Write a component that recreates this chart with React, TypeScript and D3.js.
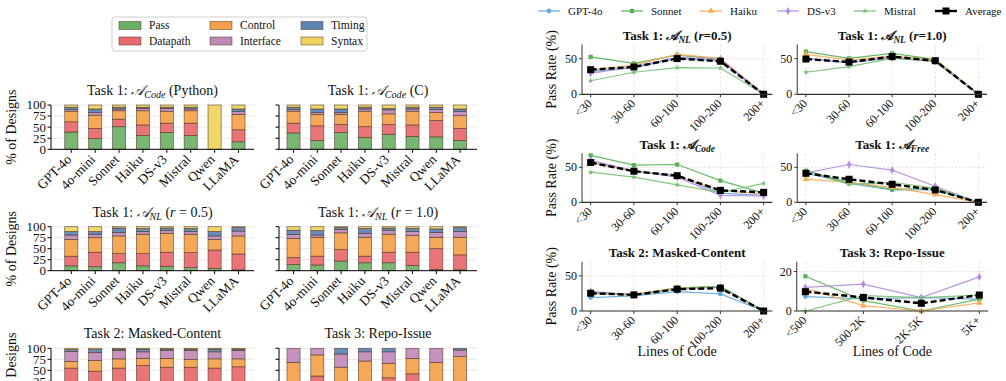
import React from 'react';
import * as d3 from 'd3';

const SERIF = '"Liberation Serif", "DejaVu Serif", serif';

// ---- left half: failure breakdown (stacked %) ----
const models = ['GPT-4o', '4o-mini', 'Sonnet', 'Haiku', 'DS-v3', 'Mistral', 'Qwen', 'LLaMA'];
const failureKinds = ['Pass', 'Datapath', 'Control', 'Interface', 'Timing', 'Syntax'];
const kindColors: Record<string, string> = {
    Pass: '#6cb065',
    Datapath: '#e8696d',
    Control: '#f5a14b',
    Interface: '#c08ab7',
    Timing: '#5c83b4',
    Syntax: '#f0d35f',
};

// one row per model, columns in failureKinds order
const codePython = [
    [39, 23, 24, 4, 5, 5],
    [24, 23, 30, 6, 8, 9],
    [51, 17, 19, 4, 4, 5],
    [31, 24, 32, 5, 3, 5],
    [38, 21, 27, 6, 3, 5],
    [31, 28, 28, 4, 4, 5],
    [0, 0, 0, 0, 0, 100],
    [17, 27, 35, 6, 6, 9],
];
const codeC = [
    [37, 22, 27, 4, 5, 5],
    [20, 33, 26, 4, 8, 9],
    [38, 18, 23, 4, 8, 9],
    [27, 24, 35, 5, 4, 5],
    [34, 22, 24, 9, 3, 8],
    [29, 26, 31, 5, 4, 5],
    [28, 37, 18, 7, 5, 5],
    [20, 27, 29, 9, 6, 9],
];
const nlHalf = [
    [11, 22, 38, 10, 8, 11],
    [9, 33, 33, 8, 6, 11],
    [18, 21, 40, 8, 10, 3],
    [11, 28, 44, 6, 7, 4],
    [10, 32, 43, 6, 6, 3],
    [7, 34, 42, 6, 7, 4],
    [5, 42, 24, 8, 10, 11],
    [2, 36, 41, 11, 8, 2],
];
const nlFull = [
    [14, 16, 43, 9, 10, 8],
    [13, 20, 43, 5, 10, 9],
    [22, 26, 38, 8, 4, 2],
    [18, 15, 43, 9, 11, 4],
    [18, 24, 41, 9, 5, 3],
    [12, 30, 38, 9, 7, 4],
    [3, 47, 26, 11, 8, 5],
    [2, 34, 40, 13, 9, 2],
];
const masked = [
    [22, 33, 15, 23, 4, 3],
    [20, 28, 24, 18, 7, 3],
    [23, 32, 21, 19, 3, 2],
    [25, 36, 16, 15, 6, 2],
    [25, 32, 20, 18, 3, 2],
    [25, 32, 18, 20, 3, 2],
    [25, 30, 21, 16, 6, 2],
    [25, 33, 18, 19, 3, 2],
];
const repo = [
    [10, 10, 48, 32, 0, 0],
    [10, 27, 48, 15, 0, 0],
    [10, 15, 32, 30, 13, 0],
    [10, 15, 46, 21, 8, 0],
    [10, 23, 33, 26, 8, 0],
    [15, 27, 35, 23, 0, 0],
    [10, 15, 43, 32, 0, 0],
    [10, 15, 56, 15, 4, 0],
];
const shareTicks = [0, 25, 50, 75, 100];
// legend reads column by column: Pass/Datapath, Control/Interface, Timing/Syntax
const legendOrder = ['Pass', 'Datapath', 'Control', 'Interface', 'Timing', 'Syntax'];

// ---- right half: pass rate by size ----
const locBins = ['<30', '30-60', '60-100', '100-200', '200+'];
const repoBins = ['<500', '500-2K', '2K-5K', '5K+'];
const lineModels = ['GPT-4o', 'Sonnet', 'Haiku', 'DS-v3', 'Mistral'];
const lineColors = ['#62a9dc', '#55b356', '#fbaa52', '#b38ce0', '#76bf73'];
const lineSymbols = [d3.symbolCircle, d3.symbolSquare, d3.symbolTriangle, d3.symbolDiamond, d3.symbolStar];
const symbolSizes = [18, 18, 18, 18, 11];

const rateNlHalf = [
    [32, 37.5, 50.5, 47, 0],
    [52.5, 43.5, 55, 49, 0],
    [34, 41, 56, 50.5, 0],
    [29.5, 39, 52, 49, 0],
    [19, 31, 37.5, 37, 0],
];
const avgNlHalf = [34.6, 38.4, 50.2, 46.5, 0];
const rateNlFull = [
    [50, 45, 52, 46, 0],
    [60, 50.5, 57.5, 49, 0],
    [56, 48, 54, 48, 0],
    [51, 44, 51, 46, 0],
    [31, 39, 50.5, 47, 0],
];
const avgNlFull = [49.6, 45.3, 53, 47.2, 0];
const rateCode = [
    [57, 44, 38, 13, 10],
    [67, 53, 54, 31, 13],
    [57, 44, 37, 17, 12],
    [60, 45, 36, 10, 9],
    [43, 36, 25, 14, 27],
];
const avgCode = [56.8, 44.4, 38, 17, 14.2];
const rateFree = [
    [42, 27, 17.6, 17.6, 0],
    [45, 28.6, 18.6, 20, 0],
    [33, 28.6, 21.4, 11, 0],
    [42, 54, 46, 23, 0],
    [45, 25.7, 28.6, 20, 0],
];
const avgFree = [41.4, 32.9, 25.7, 17.6, 0];
const rateMasked = [
    [19, 21.4, 27.6, 24.3, 0],
    [27, 23, 33, 35, 0],
    [26, 24, 33, 34, 0],
    [28, 23, 31, 34, 0],
    [25, 23, 32, 35, 0],
];
const avgMasked = [25.2, 22.9, 31, 32.4, 0];
const rateRepo = [
    [7.3, 6.1, 6.8, 6],
    [17.6, 5.3, 0, 6],
    [11.5, 2.7, 0, 4.1],
    [12, 13.6, 6.8, 17.3],
    [0, 7.8, 6.8, 8],
];
const avgRepo = [9.8, 6.9, 3.9, 8.1];

// "Task 1: 𝒜_sub (rest)" style title pieces
function MathTitle({ sub, tail, r }: { sub: string; tail?: string; r?: string }) {
    return (
        <>
            Task 1: <tspan fontFamily='"DejaVu Sans"' fontStyle="italic">𝒜</tspan>
            <tspan dy={3} fontSize="0.72em" fontStyle="italic">{sub}</tspan>
            {tail && <tspan dy={-3}>{tail}</tspan>}
            {r && <><tspan dy={-3}> (</tspan><tspan fontStyle="italic">r</tspan><tspan>{r})</tspan></>}
        </>
    );
}

interface StackProps {
    title: React.ReactNode;
    shares: number[][];
    x0: number; x1: number; dom: [number, number];
    yTop: number; yBot: number;
    yLabels: boolean;
}

function StackPanel({ title, shares, x0, x1, dom, yTop, yBot, yLabels }: StackProps) {
    const x = d3.scaleLinear().domain(dom).range([x0, x1]);
    const y = d3.scaleLinear().domain([0, 100]).range([yBot, yTop]);
    const rows = shares.map(s => Object.fromEntries(failureKinds.map((k, j) => [k, s[j]])));
    const series = d3.stack<any>().keys(failureKinds)(rows);
    const bw = x(0.55) - x(0);

    return (
        <g>
            {shareTicks.slice(1).map(t => (
                <line key={t} x1={x0} x2={x1} y1={y(t)} y2={y(t)} stroke="#e4e4e4" strokeWidth={0.8} />
            ))}
            {series.map(layer => (
                <g key={layer.key}>
                    {layer.map((d, i) => d[1] - d[0] > 0 && (
                        <rect key={i} x={x(i) - bw / 2} width={bw} y={y(d[1])} height={y(d[0]) - y(d[1])}
                            fill={kindColors[layer.key]} fillOpacity={0.92}
                            stroke="#4a3322" strokeOpacity={0.75} strokeWidth={0.7} />
                    ))}
                </g>
            ))}
            <line x1={x0} x2={x0} y1={yTop} y2={yBot} stroke="#000" strokeWidth={1} />
            <line x1={x0} x2={x1} y1={yBot} y2={yBot} stroke="#000" strokeWidth={1} />
            {shareTicks.map(t => (
                <g key={t}>
                    <line x1={x0 - 3.5} x2={x0} y1={y(t)} y2={y(t)} stroke="#000" />
                    {yLabels && (
                        <text x={x0 - 5} y={y(t)} dy="0.34em" textAnchor="end" fontSize={13}>{t}</text>
                    )}
                </g>
            ))}
            {models.map((m, i) => (
                <g key={m}>
                    <line x1={x(i)} x2={x(i)} y1={yBot} y2={yBot + 3.5} stroke="#000" />
                    <text transform={`translate(${x(i) + 1},${yBot + 11}) rotate(-45)`} textAnchor="end" fontSize={13.5}>{m}</text>
                </g>
            ))}
            <text x={(x0 + x1) / 2} y={yTop - 10} textAnchor="middle" fontSize={14}>{title}</text>
            {yLabels && (
                <text transform={`translate(16,${(yTop + yBot) / 2}) rotate(-90)`} textAnchor="middle" fontSize={14}>% of Designs</text>
            )}
        </g>
    );
}

interface RateProps {
    title: React.ReactNode;
    bins: string[];
    rates: number[][];
    avg: number[];
    x0: number; x1: number; dom: [number, number];
    yTop: number; yBot: number; yMax: number; yTicks: number[];
    yTitle: boolean; xTitle: boolean;
}

function RatePanel({ title, bins, rates, avg, x0, x1, dom, yTop, yBot, yMax, yTicks, yTitle, xTitle }: RateProps) {
    const x = d3.scaleLinear().domain(dom).range([x0, x1]);
    const y = d3.scaleLinear().domain([0, yMax]).range([yBot, yTop]);
    const line = d3.line<number>().x((_, i) => x(i)).y(v => y(v));

    return (
        <g>
            {bins.map((b, i) => (
                <line key={b} x1={x(i)} x2={x(i)} y1={yTop} y2={yBot} stroke="#d8d8d8" strokeWidth={0.7} strokeDasharray="2.5,2" />
            ))}
            {yTicks.map(t => (
                <line key={t} x1={x0} x2={x1} y1={y(t)} y2={y(t)} stroke="#d8d8d8" strokeWidth={0.7} strokeDasharray="2.5,2" />
            ))}
            {rates.map((r, k) => (
                <g key={k}>
                    <path d={line(r) || ''} fill="none" stroke={lineColors[k]} strokeWidth={1.2} strokeOpacity={0.9} />
                    {r.map((v, i) => (
                        <path key={i} transform={`translate(${x(i)},${y(v)})`}
                            d={d3.symbol(lineSymbols[k], symbolSizes[k])() || ''} fill={lineColors[k]} />
                    ))}
                </g>
            ))}
            <path d={line(avg) || ''} fill="none" stroke="#000" strokeWidth={2.4} strokeDasharray="6,3" />
            {avg.map((v, i) => (
                <rect key={i} x={x(i) - 3.5} y={y(v) - 3.5} width={7} height={7} fill="#000" />
            ))}
            <line x1={x0} x2={x0} y1={yTop} y2={yBot} stroke="#555" strokeWidth={1.2} />
            <line x1={x0} x2={x1} y1={yBot} y2={yBot} stroke="#333" strokeWidth={1.2} />
            {yTicks.map(t => (
                <g key={t}>
                    <line x1={x0 - 3} x2={x0} y1={y(t)} y2={y(t)} stroke="#333" />
                    <text x={x0 - 5} y={y(t)} dy="0.34em" textAnchor="end" fontSize={12}>{t}</text>
                </g>
            ))}
            {bins.map((b, i) => (
                <g key={b}>
                    <line x1={x(i)} x2={x(i)} y1={yBot} y2={yBot + 3} stroke="#333" />
                    <text transform={`translate(${x(i) + 2},${yBot + 10}) rotate(-45)`} textAnchor="end" fontSize={12}>{b}</text>
                </g>
            ))}
            <text x={(x0 + x1) / 2} y={yTop - 4.5} textAnchor="middle" fontSize={13} fontWeight="bold">{title}</text>
            {yTitle && (
                <text transform={`translate(${x0 - 26},${(yTop + yBot) / 2}) rotate(-90)`} textAnchor="middle" fontSize={14}>Pass Rate (%)</text>
            )}
            {xTitle && (
                <text x={(x0 + x1) / 2} y={yBot + 45} textAnchor="middle" fontSize={14}>Lines of Code</text>
            )}
        </g>
    );
}

const legendCols = [119, 210, 301];
const lineLegendX = [538, 621, 700, 777, 854, 935];

export default function App() {
    const colA = { x0: 51, x1: 254, dom: [-0.85, 7.65] as [number, number] };
    const colB = { x0: 279, x1: 477, dom: [-0.61, 7.71] as [number, number] };
    const rowsL = [[105, 149.3], [226.7, 270.7], [348.3, 392.3]];
    const colRA = { x0: 582, x1: 772.3, dom: [-0.2, 4.2] as [number, number] };
    const colRB = { x0: 797.3, x1: 987, dom: [-0.2, 4.2] as [number, number] };
    const rowsR = [[44.5, 94.3], [153.3, 202.3], [261.7, 311]];

    return (
        <svg width={1006} height={381} style={{ position: 'absolute', left: 0, top: 0, background: '#fff' }}
            fontFamily={SERIF} fill="#111">
            {/* left legend */}
            <rect x={112} y={17} width={255} height={34} rx={3} fill="#fff" stroke="#cfcfcf" />
            {legendOrder.map((k, idx) => {
                const cx = legendCols[Math.floor(idx / 2)];
                const cy = idx % 2 === 0 ? 25.5 : 41;
                return (
                    <g key={k}>
                        <rect x={cx} y={cy - 4} width={22} height={8} fill={kindColors[k]} stroke="#4a3322" strokeOpacity={0.7} strokeWidth={0.7} />
                        <text x={cx + 30} y={cy} dy="0.34em" fontSize={11.5}>{k}</text>
                    </g>
                );
            })}

            <StackPanel title={<MathTitle sub="Code" tail=" (Python)" />} shares={codePython} {...colA} yTop={rowsL[0][0]} yBot={rowsL[0][1]} yLabels />
            <StackPanel title={<MathTitle sub="Code" tail=" (C)" />} shares={codeC} {...colB} yTop={rowsL[0][0]} yBot={rowsL[0][1]} yLabels={false} />
            <StackPanel title={<MathTitle sub="NL" r=" = 0.5" />} shares={nlHalf} {...colA} yTop={rowsL[1][0]} yBot={rowsL[1][1]} yLabels />
            <StackPanel title={<MathTitle sub="NL" r=" = 1.0" />} shares={nlFull} {...colB} yTop={rowsL[1][0]} yBot={rowsL[1][1]} yLabels={false} />
            <StackPanel title="Task 2: Masked-Content" shares={masked} {...colA} yTop={rowsL[2][0]} yBot={rowsL[2][1]} yLabels />
            <StackPanel title="Task 3: Repo-Issue" shares={repo} {...colB} yTop={rowsL[2][0]} yBot={rowsL[2][1]} yLabels={false} />

            {/* right legend */}
            {[...lineModels, 'Average'].map((m, k) => {
                const lx = lineLegendX[k];
                const isAvg = k === 5;
                return (
                    <g key={m}>
                        <line x1={lx} x2={lx + 22} y1={11} y2={11} stroke={isAvg ? '#000' : lineColors[k]}
                            strokeWidth={isAvg ? 2.4 : 1.2} />
                        {isAvg
                            ? <rect x={lx + 7.5} y={7.5} width={7} height={7} fill="#000" />
                            : <path transform={`translate(${lx + 11},11)`} d={d3.symbol(lineSymbols[k], symbolSizes[k])() || ''} fill={lineColors[k]} />}
                        <text x={lx + 30} y={11} dy="0.34em" fontSize={11}>{m}</text>
                    </g>
                );
            })}

            <RatePanel title={<MathTitle sub="NL" r="=0.5" />} bins={locBins} rates={rateNlHalf} avg={avgNlHalf}
                {...colRA} yTop={rowsR[0][0]} yBot={rowsR[0][1]} yMax={70} yTicks={[0, 50]} yTitle xTitle={false} />
            <RatePanel title={<MathTitle sub="NL" r="=1.0" />} bins={locBins} rates={rateNlFull} avg={avgNlFull}
                {...colRB} yTop={rowsR[0][0]} yBot={rowsR[0][1]} yMax={70} yTicks={[0, 50]} yTitle={false} xTitle={false} />
            <RatePanel title={<MathTitle sub="Code" />} bins={locBins} rates={rateCode} avg={avgCode}
                {...colRA} yTop={rowsR[1][0]} yBot={rowsR[1][1]} yMax={70} yTicks={[0, 50]} yTitle xTitle={false} />
            <RatePanel title={<MathTitle sub="Free" />} bins={locBins} rates={rateFree} avg={avgFree}
                {...colRB} yTop={rowsR[1][0]} yBot={rowsR[1][1]} yMax={70} yTicks={[0, 50]} yTitle={false} xTitle={false} />
            <RatePanel title="Task 2: Masked-Content" bins={locBins} rates={rateMasked} avg={avgMasked}
                {...colRA} yTop={rowsR[2][0]} yBot={rowsR[2][1]} yMax={70} yTicks={[0, 50]} yTitle xTitle />
            <RatePanel title="Task 3: Repo-Issue" bins={repoBins} rates={rateRepo} avg={avgRepo}
                x0={796.7} x1={988} dom={[-0.15, 3.15]} yTop={rowsR[2][0]} yBot={rowsR[2][1]} yMax={25} yTicks={[0, 20]} yTitle={false} xTitle />
        </svg>
    );
}
